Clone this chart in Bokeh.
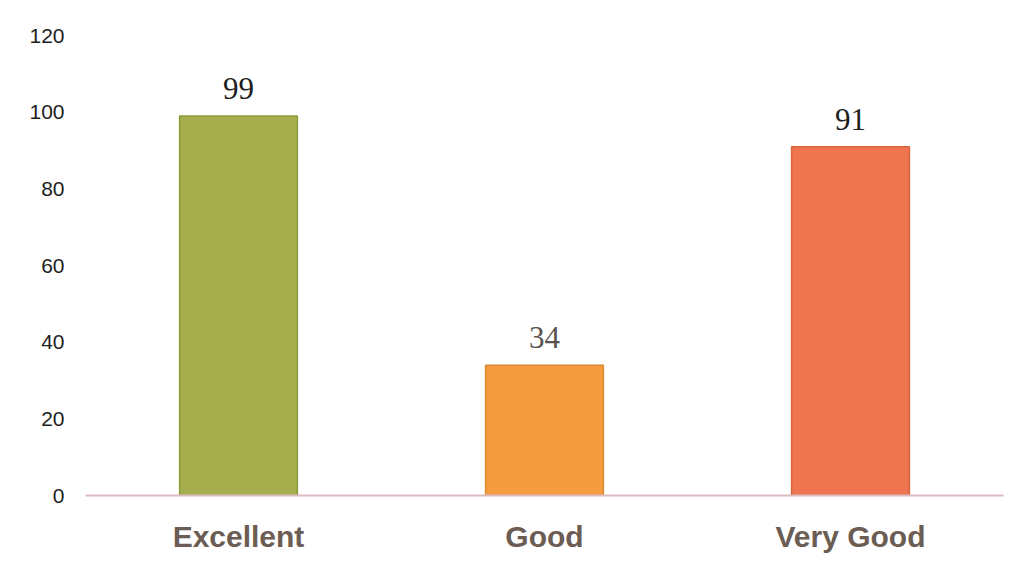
from bokeh.plotting import figure
from bokeh.models import ColumnDataSource, FactorRange, Range1d, FixedTicker, LabelSet
from bokeh.embed import file_html
from bokeh.resources import INLINE

categories = ["Excellent", "Good", "Very Good"]
values = [99, 34, 91]
colors = ["#a4ae4c", "#f59b40", "#ef7450"]
outline = ["#8f9a3c", "#e08830", "#d9643f"]
label_colors = ["#1e1e1e", "#5a524c", "#1e1e1e"]
y_ticks = [0, 20, 40, 60, 80, 100, 120]

src = ColumnDataSource(dict(cat=categories, val=values, color=colors, line=outline,
                            lab=[str(v) for v in values], lc=label_colors))

p = figure(x_range=FactorRange(*categories, range_padding=0), y_range=Range1d(0, 120),
           width=1017, height=558, output_backend="svg", toolbar_location=None,
           min_border_left=85, min_border_right=14, min_border_top=35, min_border_bottom=63)
p.vbar(x="cat", top="val", width=0.385, fill_color="color", line_color="line", line_width=1.5, source=src)

labels = LabelSet(x="cat", y="val", text="lab", source=src, text_align="center",
                  text_baseline="bottom", y_offset=17, text_font="Liberation Serif",
                  text_font_size="31px", text_color="lc")
p.add_layout(labels)

p.xgrid.grid_line_color = None
p.ygrid.grid_line_color = None
p.outline_line_color = None

p.yaxis.ticker = FixedTicker(ticks=y_ticks)
p.yaxis.axis_line_color = None
p.yaxis.major_tick_line_color = None
p.yaxis.minor_tick_line_color = None
p.yaxis.major_label_standoff = 15
p.yaxis.major_label_text_font = "Liberation Sans"
p.yaxis.major_label_text_font_size = "21px"
p.yaxis.major_label_text_color = "#1e1e1e"

p.xaxis.axis_line_color = "#dcbcc0"
p.xaxis.axis_line_width = 2
p.xaxis.major_tick_line_color = None
p.xaxis.minor_tick_line_color = None
p.xaxis.major_label_standoff = 18
p.xaxis.major_label_text_font = "Liberation Sans"
p.xaxis.major_label_text_font_style = "bold"
p.xaxis.major_label_text_font_size = "30px"
p.xaxis.major_label_text_color = "#6b5d53"

open("out.html", "w").write(file_html(p, INLINE))
